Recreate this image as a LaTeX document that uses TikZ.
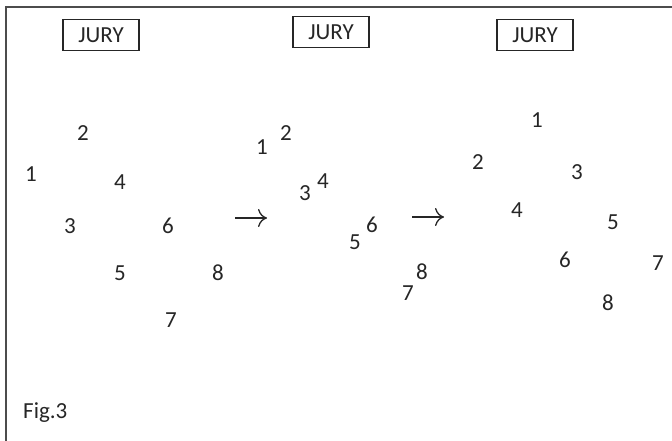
\documentclass[tikz,border=0pt]{standalone}
\usepackage{fontspec}
\setmainfont{Carlito}
\usetikzlibrary{arrows.meta}
\begin{document}
\begin{tikzpicture}[x=1pt,y=-1pt,
  num/.style={inner sep=0pt,font=\fontsize{23}{23}\selectfont,text=black!85},
  jury/.style={draw=black!85,line width=1.3pt,inner sep=0pt,minimum width=76pt,minimum height=31pt,font=\fontsize{23}{23}\selectfont,text=black!85},
  arr/.style={draw=black!85,line width=1.3pt,-{Computer Modern Rightarrow[length=9pt,width=18pt,line width=1.3pt]}},
  frame/.style={draw=black!70,line width=2pt}]
\useasboundingbox (0,0) rectangle (672,441);
\draw[frame] (6,441) -- (6,7) -- (672,7);
\node[jury] (j1) at (101,35) {JURY};
\node[jury] (j2) at (331,32) {JURY};
\node[jury] (j3) at (535,35) {JURY};
% panel 1
\node[num] (a1) at (31,174) {1};
\node[num] (a2) at (83,133) {2};
\node[num] (a3) at (70,226) {3};
\node[num] (a4) at (120,182) {4};
\node[num] (a5) at (120,273) {5};
\node[num] (a6) at (168,226) {6};
\node[num] (a7) at (171,320) {7};
\node[num] (a8) at (218,273) {8};
\coordinate (r1s) at (235,218);
\coordinate (r1e) at (267,218);
\draw[arr] (r1s) -- (r1e);
% panel 2
\node[num] (b1) at (262,147) {1};
\node[num] (b2) at (286,133) {2};
\node[num] (b3) at (305,193) {3};
\node[num] (b4) at (323,181) {4};
\node[num] (b5) at (355,242) {5};
\node[num] (b6) at (372,225) {6};
\node[num] (b7) at (408,293) {7};
\node[num] (b8) at (422,272) {8};
\coordinate (r2s) at (412,217);
\coordinate (r2e) at (444,217);
\draw[arr] (r2s) -- (r2e);
% panel 3
\node[num] (c1) at (537,120) {1};
\node[num] (c2) at (478,162) {2};
\node[num] (c3) at (577,172) {3};
\node[num] (c4) at (517,210) {4};
\node[num] (c5) at (613,222) {5};
\node[num] (c6) at (565,260) {6};
\node[num] (c7) at (658,263) {7};
\node[num] (c8) at (608,303) {8};
\node[num,anchor=west] (fig) at (23,413) {Fig.3};
\end{tikzpicture}
\end{document}
